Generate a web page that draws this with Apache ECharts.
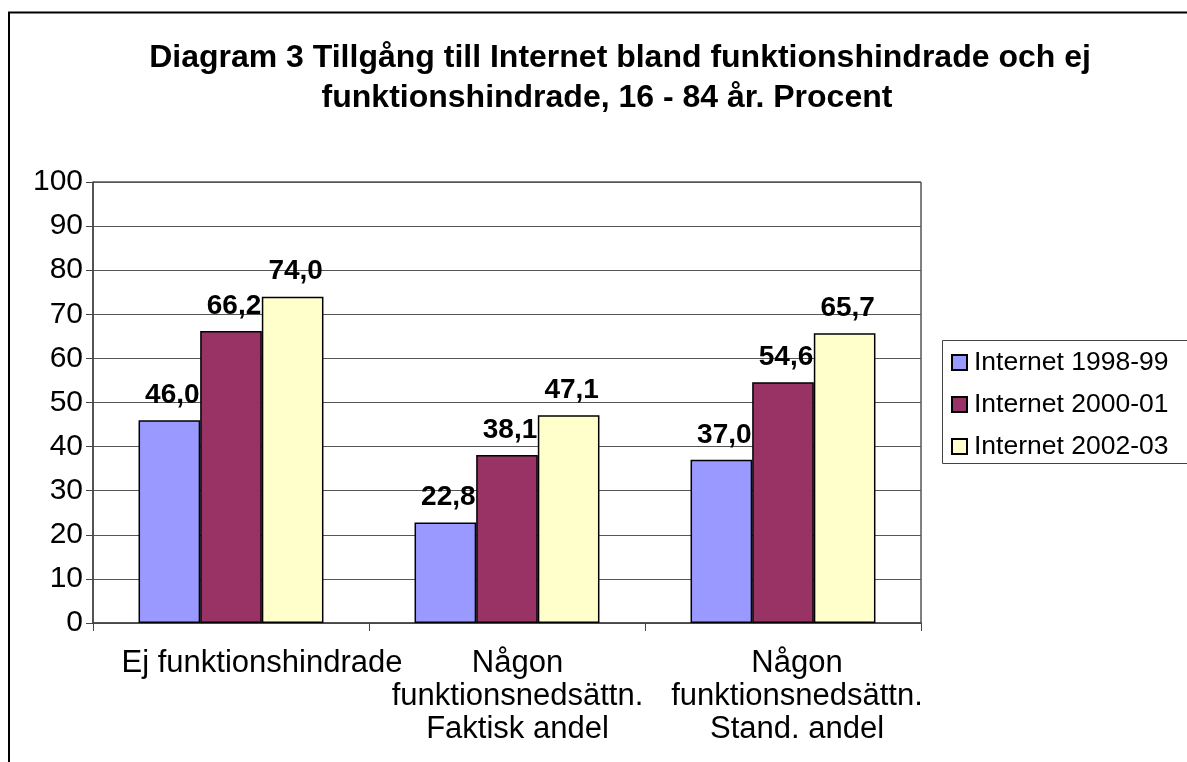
<!DOCTYPE html>
<html>
<head>
<meta charset="utf-8">
<title>Diagram 3</title>
<script src="https://cdn.jsdelivr.net/npm/echarts@6/dist/echarts.min.js"></script>
<style>
  html, body { margin: 0; padding: 0; background: #fff; }
  #chart { width: 1187px; height: 762px; }
</style>
</head>
<body>
<div id="chart"></div>
<script>
// data
const categories = [
  'Ej funktionshindrade',
  'Någon\nfunktionsnedsättn.\nFaktisk andel',
  'Någon\nfunktionsnedsättn.\nStand. andel'
]
const seriesNames = ['Internet 1998-99', 'Internet 2000-01', 'Internet 2002-03']
const internet9899 = [46.0, 22.8, 37.0]
const internet0001 = [66.2, 38.1, 54.6]
const internet0203 = [74.0, 47.1, 65.7]

const font = '"Liberation Sans", Arial, sans-serif'
const colors = ['#9999FF', '#993366', '#FFFFCC']
// excel drew the category labels a bit right of centre
const labelShift = [62, 21, 28]

const mChart = echarts.init(document.getElementById('chart'))

const makeSeries = (name, data, color) => ({
  name,
  type: 'bar',
  barGap: '0%',
  barCategoryGap: '33%',
  itemStyle: {
    color,
    borderColor: '#000',
    borderWidth: 1.5
  },
  label: {
    show: true,
    position: 'top',
    distance: 11,
    offset: [3, 0],
    fontFamily: font,
    fontSize: 28,
    fontWeight: 'bold',
    color: '#000',
    formatter: (p) => p.value.toFixed(1).replace('.', ',')
  },
  data
})

const rich = {}
labelShift.forEach((s, i) => {
  rich['c' + i] = {
    fontFamily: font,
    fontSize: 31,
    lineHeight: 33,
    color: '#000',
    padding: [0, 0, 0, s]
  }
})

const titleStyle = {
  fontFamily: font,
  fontSize: 32,
  fontWeight: 'bold',
  color: '#000',
  lineHeight: 40
}

const options = {
  animation: false,
  backgroundColor: '#fff',
  title: [
    {
      text: 'Diagram 3 Tillgång till Internet bland funktionshindrade och ej',
      left: 620,
      top: 38,
      padding: 0,
      textAlign: 'center',
      textStyle: titleStyle
    },
    {
      text: 'funktionshindrade, 16 - 84 år. Procent',
      left: 607,
      top: 78,
      padding: 0,
      textAlign: 'center',
      textStyle: titleStyle
    }
  ],
  legend: {
    orient: 'vertical',
    left: 951,
    top: 349,
    padding: 0,
    itemWidth: 15,
    itemHeight: 15,
    itemGap: 15,
    icon: 'rect',
    textStyle: {
      fontFamily: font,
      fontSize: 26.5,
      lineHeight: 26,
      color: '#000',
      padding: [0, 0, 0, 2]
    },
    data: seriesNames
  },
  grid: {
    left: 93,
    top: 182,
    right: 266,
    bottom: 139,
    containLabel: false,
    outerBoundsMode: 'none',
    show: true,
    borderColor: '#000',
    borderWidth: 1,
    backgroundColor: 'transparent'
  },
  xAxis: {
    type: 'category',
    data: categories,
    axisLine: { lineStyle: { color: '#444', width: 1.5 } },
    axisTick: { show: true, length: 8, alignWithLabel: false, lineStyle: { color: '#444' } },
    axisLabel: {
      interval: 0,
      margin: 24,
      formatter: (value, index) =>
        value.split('\n').map((line) => `{c${index}|${line}}`).join('\n'),
      rich
    }
  },
  yAxis: {
    type: 'value',
    min: 0,
    max: 100,
    interval: 10,
    axisLine: { show: true, lineStyle: { color: '#444', width: 1.5 } },
    axisTick: { show: true, length: 7, lineStyle: { color: '#444' } },
    axisLabel: {
      margin: 10,
      fontFamily: font,
      fontSize: 30,
      color: '#000',
      padding: [6, 0, 0, 0]
    },
    splitLine: { lineStyle: { color: '#555', width: 1 } }
  },
  graphic: [
    // outer chart frame, runs off the right and bottom edge
    {
      type: 'rect',
      shape: { x: 9, y: 12.5, width: 1400, height: 1000 },
      style: { fill: null, stroke: '#000', lineWidth: 2 },
      silent: true,
      z: -1
    },
    // legend frame
    {
      type: 'rect',
      shape: { x: 942.5, y: 340.5, width: 300, height: 123 },
      style: { fill: null, stroke: '#444', lineWidth: 1 },
      silent: true
    }
  ],
  series: [
    makeSeries(seriesNames[0], internet9899, colors[0]),
    makeSeries(seriesNames[1], internet0001, colors[1]),
    makeSeries(seriesNames[2], internet0203, colors[2])
  ]
}
mChart.setOption(options)
</script>
</body>
</html>
